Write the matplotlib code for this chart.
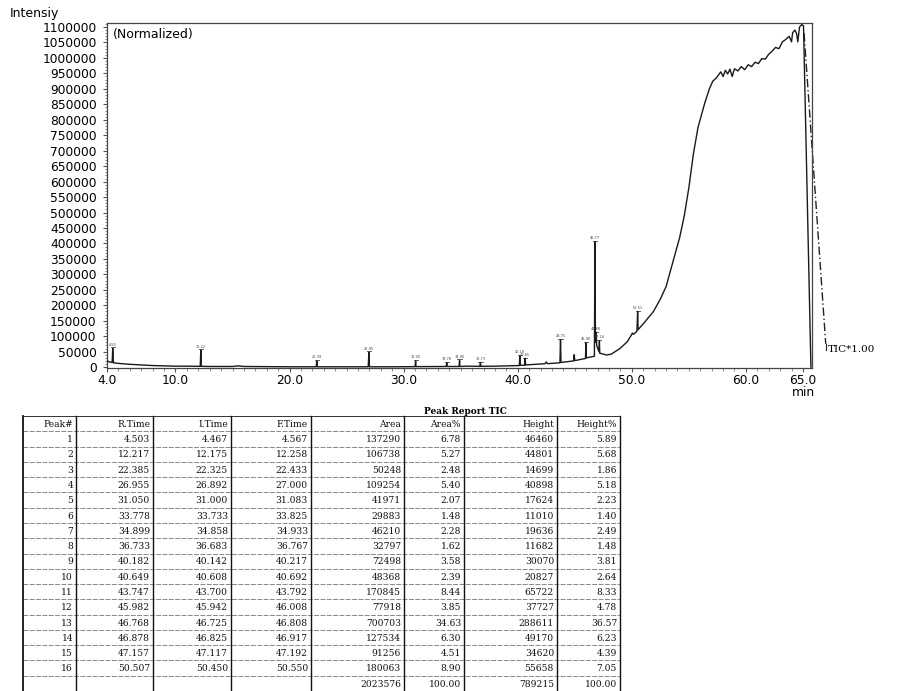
#!/usr/bin/env python3

import numpy as np
import matplotlib
matplotlib.use('Agg')
from matplotlib import pyplot as plt
from matplotlib.ticker import MultipleLocator, FixedLocator

# ---- peak report TIC (printed table) ----
PEAK_NO = list(range(1, 17))
R_TIME = [4.503, 12.217, 22.385, 26.955, 31.050, 33.778, 34.899, 36.733,
          40.182, 40.649, 43.747, 45.982, 46.768, 46.878, 47.157, 50.507]
I_TIME = [4.467, 12.175, 22.325, 26.892, 31.000, 33.733, 34.858, 36.683,
          40.142, 40.608, 43.700, 45.942, 46.725, 46.825, 47.117, 50.450]
F_TIME = [4.567, 12.258, 22.433, 27.000, 31.083, 33.825, 34.933, 36.767,
          40.217, 40.692, 43.792, 46.008, 46.808, 46.917, 47.192, 50.550]
AREA = [137290, 106738, 50248, 109254, 41971, 29883, 46210, 32797,
        72498, 48368, 170845, 77918, 700703, 127534, 91256, 180063]
AREA_PCT = [6.78, 5.27, 2.48, 5.40, 2.07, 1.48, 2.28, 1.62,
            3.58, 2.39, 8.44, 3.85, 34.63, 6.30, 4.51, 8.90]
HEIGHT = [46460, 44801, 14699, 40898, 17624, 11010, 19636, 11682,
          30070, 20827, 65722, 37727, 288611, 49170, 34620, 55658]
HEIGHT_PCT = [5.89, 5.68, 1.86, 5.18, 2.23, 1.40, 2.49, 1.48,
              3.81, 2.64, 8.33, 4.78, 36.57, 6.23, 4.39, 7.05]
AREA_TOTAL = 2023576
HEIGHT_TOTAL = 789215
HEADERS = ['Peak#', 'R.Time', 'I.Time', 'F.Time', 'Area', 'Area%', 'Height', 'Height%']

# apex intensity of each labelled peak as drawn on the chromatogram
PEAK_TOP = [61000, 55000, 20000, 48000, 20000, 14000, 22000, 15000,
            36000, 28000, 88000, 78000, 405000, 112000, 85000, 180000]

# ---- TIC trace (min, intensity) ----
TRACE_MIN = [4.0, 4.2, 4.45, 4.50, 4.56, 5.0, 6.0, 7.0, 8.0, 9.0, 10.0, 11.0,
             12.17, 12.22, 12.26, 13.0, 15.0, 15.5, 16.0, 18.0, 20.0,
             22.33, 22.39, 22.43, 25.0, 26.89, 26.96, 27.0, 29.0,
             31.0, 31.05, 31.08, 33.73, 33.78, 33.82, 34.86, 34.90, 34.93,
             35.5, 36.68, 36.73, 36.77, 38.0, 39.0,
             40.14, 40.18, 40.22, 40.61, 40.65, 40.69, 41.5, 42.4, 42.5, 42.6,
             43.70, 43.75, 43.79, 44.5, 44.90, 44.95, 45.0,
             45.94, 45.98, 46.01, 46.72, 46.77, 46.81, 46.88, 46.92,
             47.12, 47.16, 47.19, 47.8, 48.2, 48.96, 49.6, 49.95, 50.05, 50.15,
             50.45, 50.51, 50.55, 51.0, 51.9, 52.5, 53.0, 53.6, 54.2, 54.6,
             55.0, 55.4, 55.8, 56.4, 56.8, 57.1, 57.4, 57.6, 57.8, 58.0, 58.2,
             58.4, 58.6, 58.8, 59.0, 59.3, 59.6, 59.9, 60.2, 60.5, 60.8, 61.1,
             61.4, 61.7, 62.0, 62.3, 62.6, 62.9, 63.2, 63.5, 63.8, 64.0, 64.1,
             64.3, 64.45, 64.55, 64.7, 64.9, 65.05, 65.7]
TRACE_INT = [20000, 17000, 15000, 61000, 14000, 12000, 9000, 7000, 5000, 4000, 3000, 3000,
             2500, 55000, 2500, 2000, 2000, 4000, 2000, 1500, 1000,
             1000, 20000, 1000, 1000, 1000, 48000, 1000, 1000,
             1500, 20000, 1500, 2000, 14000, 2000, 2000, 22000, 2000,
             3000, 2500, 15000, 2500, 3000, 4000,
             5000, 36000, 6000, 6000, 28000, 7000, 9000, 11000, 17000, 11000,
             14000, 88000, 15000, 18000, 20000, 40000, 21000,
             28000, 78000, 30000, 35000, 405000, 80000, 112000, 70000,
             50000, 85000, 45000, 39000, 42000, 60000, 82000, 103000, 110000, 106000,
             116000, 180000, 121000, 140000, 180000, 220000, 260000, 340000, 420000, 490000,
             580000, 690000, 775000, 855000, 900000, 925000, 935000, 945000, 955000, 940000, 960000,
             948000, 964000, 940000, 965000, 958000, 972000, 962000, 978000, 972000, 986000, 982000,
             998000, 996000, 1012000, 1022000, 1034000, 1030000, 1052000, 1060000, 1070000, 1052000, 1082000,
             1090000, 1078000, 1052000, 1100000, 1108000, 1104000, 0]

# TIC*1.00 reference line (dash-dot, outside the frame)
TIC_LINE_MIN = [65.1, 67.0]
TIC_LINE_INT = [1080000, 75000]


def draw_chromatogram(fig):
  ax = fig.add_axes([0.1192, 0.4674, 0.7851, 0.4993])
  ax.plot(TRACE_MIN, TRACE_INT, color='#1a1a1a', lw=1.0, zorder=3)

  # tiny peak labels above the peaks
  for rt, top in zip(R_TIME, PEAK_TOP):
    ax.plot([rt - 0.18, rt + 0.18], [top + 3000, top + 3000], color='#444', lw=0.6)
    ax.text(rt, top + 5000, f'{rt:.2f}', fontsize=2.5, ha='center', va='bottom', color='#444')

  ax.plot(TIC_LINE_MIN, TIC_LINE_INT, color='#222', lw=1.0, ls=(0, (6, 2, 1, 2)), clip_on=False)
  ax.plot([TIC_LINE_MIN[1], TIC_LINE_MIN[1]], [TIC_LINE_INT[1], 55000], color='#222', lw=0.8, clip_on=False)
  ax.text(67.15, 48000, 'TIC*1.00', fontsize=7.5, family='DejaVu Serif', va='baseline', ha='left')

  ax.set_xlim(4.0, 65.8)
  ax.set_ylim(-3000, 1113000)
  ax.xaxis.set_major_locator(FixedLocator([4.0, 10.0, 20.0, 30.0, 40.0, 50.0, 60.0, 65.0]))
  ax.set_xticklabels(['4.0', '10.0', '20.0', '30.0', '40.0', '50.0', '60.0', '65.0'])
  ax.xaxis.set_minor_locator(MultipleLocator(1.0))
  ax.yaxis.set_major_locator(MultipleLocator(50000))
  ax.yaxis.set_minor_locator(MultipleLocator(10000))
  ax.yaxis.set_major_formatter(plt.FuncFormatter(lambda v, p: f'{int(round(v))}'))
  ax.tick_params(axis='both', which='major', labelsize=8.8, length=3, width=0.8, color='#555')
  ax.tick_params(axis='both', which='minor', length=1.8, width=0.6, color='#777')
  ax.tick_params(axis='x', which='major', pad=1.0)
  ax.tick_params(axis='y', which='major', pad=4.5)
  for s in ax.spines.values():
    s.set_color('#444')
    s.set_linewidth(0.9)

  fig.text(10 / 898, 1 - 13 / 691, 'Intensiy', fontsize=9, ha='left', va='center')
  ax.text(0.008, 0.985, '(Normalized)', transform=ax.transAxes, fontsize=9, ha='left', va='top')
  fig.text(803 / 898, 1 - 386 / 691, 'min', fontsize=8.8, ha='center', va='top')
  return ax


def draw_table(fig):
  col_edges = [23, 76, 153, 231, 311, 404, 464, 557, 620]
  tax = fig.add_axes([23 / 898, 0.0, 597 / 898, 275 / 691])
  tax.set_xlim(col_edges[0], col_edges[-1])
  n_rows = 18
  tax.set_ylim(n_rows, 0)
  tax.axis('off')

  rows = [HEADERS]
  for i in range(len(PEAK_NO)):
    rows.append([str(PEAK_NO[i]), f'{R_TIME[i]:.3f}', f'{I_TIME[i]:.3f}', f'{F_TIME[i]:.3f}',
                 str(AREA[i]), f'{AREA_PCT[i]:.2f}', str(HEIGHT[i]), f'{HEIGHT_PCT[i]:.2f}'])
  rows.append(['', '', '', '', str(AREA_TOTAL), '100.00', str(HEIGHT_TOTAL), '100.00'])

  for r, row in enumerate(rows):
    for c, txt in enumerate(row):
      tax.text(col_edges[c + 1] - 3, r + 0.55, txt, fontsize=6.6, family='DejaVu Serif',
               ha='right', va='center', color='#111')

  for r in range(n_rows + 1):
    col = '#333' if r in (0, n_rows) else '#888'
    tax.plot([col_edges[0], col_edges[-1]], [r, r], color=col, lw=0.7,
             ls='-' if r in (0, n_rows) else (0, (5, 1.5)), clip_on=False)
  for x in col_edges:
    tax.plot([x, x], [0, n_rows], color='#111', lw=1.3 if x == col_edges[0] else 1.0, clip_on=False)

  fig.text(465 / 898, 1 - 412 / 691, 'Peak Report TIC', fontsize=6.5, family='DejaVu Serif',
           weight='bold', ha='center', va='center')


def main():
  fig = plt.figure(figsize=(8.98, 6.91), dpi=100)
  draw_chromatogram(fig)
  draw_table(fig)
  fig.savefig('out.png', dpi=100)
  plt.close(fig)


if __name__ == '__main__':
  main()
